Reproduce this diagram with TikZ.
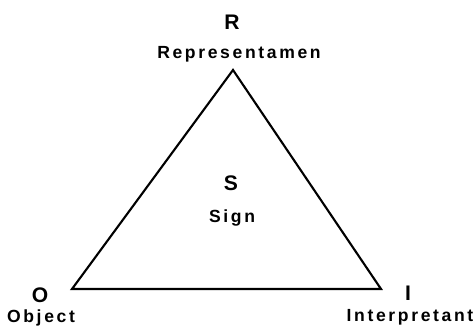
\documentclass[tikz,border=0pt]{standalone}
\usepackage{fontspec}
\setmainfont{Liberation Sans}
\newfontfamily\spacedfont[LetterSpace=15]{Liberation Sans}
\usepackage{tikz}
\usetikzlibrary{positioning}
\tikzstyle{vertexletter} = [font=\fontsize{12}{14}\selectfont\bfseries, inner sep=1pt]
\tikzstyle{termname} = [font=\fontsize{10}{12}\selectfont\spacedfont\bfseries, inner sep=1pt]
\tikzstyle{edge} = [line width=1.2pt, line join=miter]

\begin{document}
\begin{tikzpicture}
    \useasboundingbox (0,0) rectangle (9.48,6.58);
    % corners of the triangle
    \coordinate (o) at (1.44,0.80);
    \coordinate (r) at (4.66,5.18);
    \coordinate (i) at (7.62,0.80);
    % labels
    \node (rl) [vertexletter] at (4.64,6.14) {R};
    \node (rn) [termname] at (4.78,5.50) {Representamen};
    \node (sl) [vertexletter] at (4.62,2.92) {S};
    \node (sn) [termname] at (4.64,2.22) {Sign};
    \node (ol) [vertexletter] at (0.80,0.68) {O};
    \node (on) [termname] at (0.82,0.22) {Object};
    \node (il) [vertexletter] at (8.16,0.72) {I};
    \node (in) [termname] at (8.20,0.24) {Interpretant};
    \draw [edge] (o) -- (r) -- (i) -- cycle;
\end{tikzpicture}
\end{document}
